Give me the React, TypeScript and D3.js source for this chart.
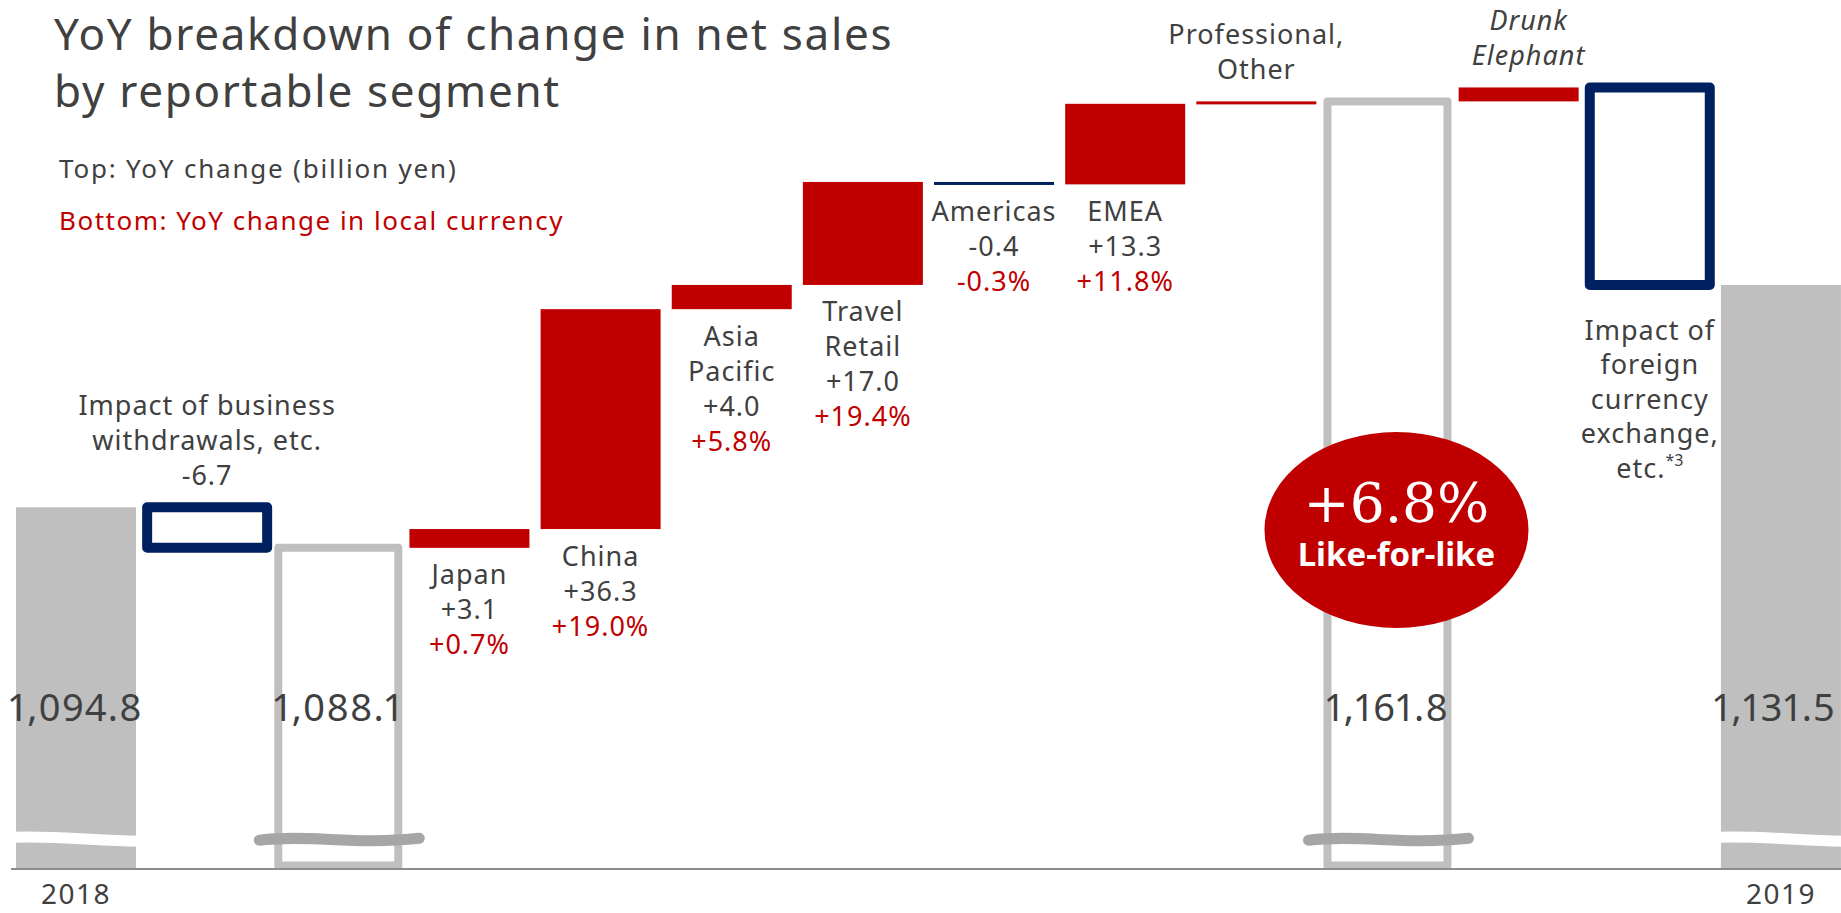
import React, { useEffect, useLayoutEffect, useRef } from 'react';
import * as d3 from 'd3';

const W = 1841;
const H = 913;

// ---------- data ----------
const steps = [
  '2018', 'Withdrawals', 'FY2018 adjusted', 'Japan', 'China', 'Asia Pacific', 'Travel Retail',
  'Americas', 'EMEA', 'Professional, Other', 'Like-for-like total', 'Drunk Elephant', 'FX', '2019',
];
const stepTypes = [
  'total', 'impact', 'subtotal', 'segment', 'segment', 'segment', 'segment',
  'segment', 'segment', 'segment', 'subtotal', 'segment', 'impact', 'total',
];
// totals are levels, the rest are YoY changes (billion yen)
const stepValues = [1094.8, -6.7, 1088.1, 3.1, 36.3, 4.0, 17.0, -0.4, 13.3, 0.4, 1161.8, 2.3, -32.6, 1131.5];
const valueLabels = ['1,094.8', '-6.7', '1,088.1', '+3.1', '+36.3', '+4.0', '+17.0', '-0.4', '+13.3', '', '1,161.8', '', '', '1,131.5'];
const nameLines: string[][] = [
  [], ['Impact of business', 'withdrawals, etc.'], [], ['Japan'], ['China'], ['Asia', 'Pacific'],
  ['Travel', 'Retail'], ['Americas'], ['EMEA'], ['Professional,', 'Other'], [], ['Drunk', 'Elephant'],
  ['Impact of', 'foreign', 'currency', 'exchange,', 'etc.'], [],
];
const localCurrencyLabels = ['', '', '', '+0.7%', '+19.0%', '+5.8%', '+19.4%', '-0.3%', '+11.8%', '', '', '', '', ''];
const yearLabels = ['2018', '', '', '', '', '', '', '', '', '', '', '', '', '2019'];
const fxFootnote = '*3';
const likeForLikeGrowth = '+6.8%';
const likeForLikeCaption = 'Like-for-like';
const titleLines = ['YoY breakdown of change in net sales', 'by reportable segment'];
const subtitleTop = 'Top: YoY change (billion yen)';
const subtitleBottom = 'Bottom: YoY change in local currency';
const yDomain = [1035, 1165];
const axisBreakValue = 1040;

// ---------- style ----------
const GRAY = '#bfbfbf';
const NAVY = '#002060';
const RED = '#c00000';
const TEXT = '#404040';
const BREAK = '#a6a6a6';
const FONT = "'Noto Sans', 'Open Sans', sans-serif";
const labelsAbove = new Set(['Withdrawals', 'Professional, Other', 'Drunk Elephant']);
const italicLabels = new Set(['Drunk Elephant']);

export default function App() {
  const svgRef = useRef<SVGSVGElement>(null);

  useEffect(() => {
    document.body.style.margin = '0';
    document.body.style.overflow = 'hidden';
  }, []);

  // keep the big total labels inside the picture
  useLayoutEffect(() => {
    const svg = svgRef.current;
    if (!svg) return;
    svg.querySelectorAll('text[data-clamp]').forEach((el) => {
      const t = el as SVGTextElement;
      const w = t.getComputedTextLength();
      const cx = Number(t.getAttribute('data-cx'));
      const nx = Math.min(Math.max(cx, 9 + w / 2), W - 5 - w / 2);
      t.setAttribute('x', String(nx));
    });
  });

  const x = d3.scaleBand<string>().domain(steps).range([10.43, 1846.5]).paddingInner(0.085).paddingOuter(0.0425);
  const y = d3.scaleLinear().domain(yDomain).range([869.5, 82]);
  const bw = x.bandwidth();

  let running = 0;
  const bars = steps.map((s, i) => {
    const t = stepTypes[i];
    const v = stepValues[i];
    let lo: number, hi: number;
    if (t === 'total' || t === 'subtotal') {
      lo = yDomain[0];
      hi = v;
      running = v;
    } else {
      const start = running;
      const end = running + v;
      lo = Math.min(start, end);
      hi = Math.max(start, end);
      running = end;
    }
    return { s, i, t, v, lo, hi, x0: x(s) as number, yTop: y(hi), yBot: y(lo) };
  });

  const lineH = 35;
  const labelFont = 27;
  const ls = 1;

  const breakY = y(axisBreakValue);

  const lflBar = bars[steps.indexOf('Like-for-like total')];
  const ellCx = lflBar.x0 + bw / 2 + 9;
  const ellCy = 530;

  return (
    <svg ref={svgRef} width={W} height={H} style={{ position: 'absolute', left: 0, top: 0, background: '#fff' }} fontFamily={FONT}>
      {/* title */}
      {titleLines.map((t, k) => (
        <text key={t} x={54} y={50 + k * 57} fontSize={44} letterSpacing={1.7} fill={TEXT}>{t}</text>
      ))}
      <text x={59} y={178} fontSize={26} letterSpacing={1.8} fill={TEXT}>{subtitleTop}</text>
      <text x={59} y={230} fontSize={26} letterSpacing={1.5} fill={RED}>{subtitleBottom}</text>

      {/* bars */}
      {bars.map((b) => {
        if (b.t === 'total') {
          return (
            <g key={b.s}>
              <rect x={b.x0} y={b.yTop} width={bw} height={b.yBot - b.yTop} fill={GRAY} />
              <path
                d={`M${b.x0 - 1},${breakY - 2} C${b.x0 + bw * 0.35},${breakY - 3} ${b.x0 + bw * 0.65},${breakY + 1} ${b.x0 + bw + 1},${breakY + 2}`}
                stroke="#fff" strokeWidth={11} fill="none"
              />
            </g>
          );
        }
        if (b.t === 'subtotal') {
          const xa = b.x0 - 19;
          const xb = b.x0 + bw + 21;
          const L = xb - xa;
          return (
            <g key={b.s}>
              <rect x={b.x0} y={b.yTop} width={bw} height={b.yBot - b.yTop - 4} fill="none" stroke={GRAY} strokeWidth={8} strokeLinejoin="round" />
              <path
                d={`M${xa},${breakY + 1} C${xa + L * 0.3},${breakY - 5} ${xa + L * 0.6},${breakY + 6} ${xb},${breakY - 1}`}
                stroke={BREAK} strokeWidth={11} strokeLinecap="round" fill="none"
              />
            </g>
          );
        }
        if (b.t === 'impact') {
          return (
            <rect key={b.s} x={b.x0} y={b.yTop} width={bw} height={b.yBot - b.yTop}
              fill="none" stroke={b.v < 0 ? NAVY : RED} strokeWidth={10} strokeLinejoin="round" />
          );
        }
        return (
          <rect key={b.s} x={b.x0} y={b.yTop} width={bw} height={Math.max(b.yBot - b.yTop, 3)}
            fill={b.v < 0 ? NAVY : RED} />
        );
      })}

      {/* axis line */}
      <line x1={11} x2={W} y1={869} y2={869} stroke="#8c8c8c" strokeWidth={2} />

      {/* labels */}
      {bars.map((b) => {
        const cx = b.x0 + bw / 2;
        if (b.t === 'total' || b.t === 'subtotal') {
          return (
            <g key={'l' + b.s}>
              <text data-clamp="1" data-cx={cx} x={cx} y={721} textAnchor="middle" fontSize={38} letterSpacing={1.2} fill={TEXT}
                style={{ fontVariantNumeric: 'proportional-nums' }}>{valueLabels[b.i]}</text>
              {yearLabels[b.i] && (
                <text x={cx} y={904} textAnchor="middle" fontSize={28} letterSpacing={1.5} fill={TEXT}>{yearLabels[b.i]}</text>
              )}
            </g>
          );
        }
        const dark = [...nameLines[b.i]];
        if (b.t !== 'impact' || b.s === 'Withdrawals') {
          if (valueLabels[b.i]) dark.push(valueLabels[b.i]);
        }
        const lines: { t: string; c: string; sup?: string }[] = dark.map((t) => ({ t, c: TEXT }));
        if (localCurrencyLabels[b.i]) lines.push({ t: localCurrencyLabels[b.i], c: RED });
        if (b.s === 'FX') lines[lines.length - 1].sup = fxFootnote;
        const italic = italicLabels.has(b.s);
        const tx = italic ? cx + 10 : cx;
        let baselines: number[];
        if (labelsAbove.has(b.s)) {
          const last = b.yTop - 22;
          baselines = lines.map((_, k) => last - (lines.length - 1 - k) * lineH);
        } else {
          const first = b.yBot + (b.t === 'impact' ? 55 : 36.5);
          const lh = b.t === 'impact' ? 34.5 : lineH;
          baselines = lines.map((_, k) => first + k * lh);
        }
        return (
          <g key={'l' + b.s}>
            {lines.map((ln, k) => (
              <text key={k} x={tx} y={baselines[k]} textAnchor="middle" fontSize={labelFont} letterSpacing={ls}
                fill={ln.c} fontStyle={italic ? 'italic' : 'normal'}>
                {ln.t}
                {ln.sup && (
                  <tspan fontSize={16} dy={-12} letterSpacing={0}>{ln.sup}</tspan>
                )}
              </text>
            ))}
          </g>
        );
      })}

      {/* like-for-like badge */}
      <ellipse cx={ellCx} cy={ellCy} rx={132} ry={98} fill={RED} />
      <text x={ellCx} y={522} textAnchor="middle" fontSize={55} fill="#fff" fontFamily="'DejaVu Serif', 'Liberation Serif', serif">{likeForLikeGrowth}</text>
      <text x={ellCx} y={566} textAnchor="middle" fontSize={33} fontWeight={700} fill="#fff">{likeForLikeCaption}</text>
    </svg>
  );
}
